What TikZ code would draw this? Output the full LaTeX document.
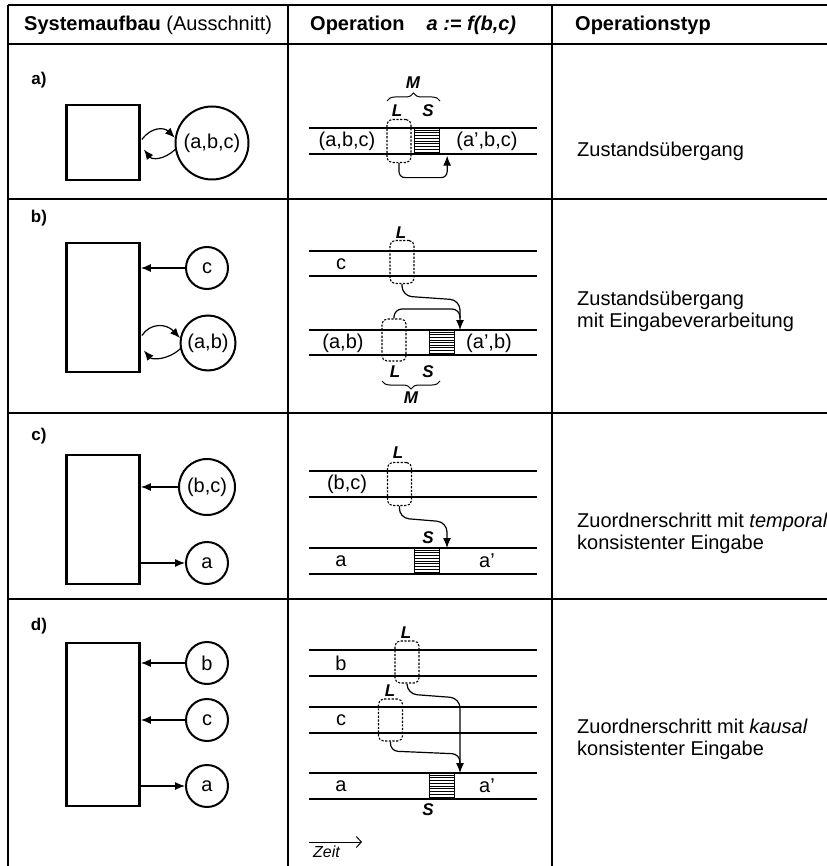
\documentclass[tikz,border=0pt]{standalone}
\usepackage{fontspec}
\setmainfont{Liberation Sans}
\usetikzlibrary{arrows.meta,decorations.pathreplacing,calc}
\begin{document}
\begin{tikzpicture}[x=1pt,y=-1pt,
  tbl/.style={line width=1.4pt},
  sysbox/.style={draw,line width=2.8pt,inner sep=0pt,minimum width=73pt},
  state/.style={draw,circle,line width=2pt,inner sep=0pt,font=\fontsize{20}{24}\selectfont},
  tl/.style={line width=1.6pt},
  lbox/.style={draw,dash pattern=on 2.2pt off 1.5pt,rounded corners=5pt,line width=1.1pt,inner sep=0pt,minimum width=24pt},
  sbox/.style={draw,line width=1.3pt,inner sep=0pt,minimum width=25pt,minimum height=26pt},
  lab/.style={font=\fontsize{17}{20}\selectfont\bfseries\itshape,inner sep=0pt},
  txt/.style={font=\fontsize{20}{24}\selectfont,inner sep=0pt},
  rtxt/.style={font=\fontsize{20}{22}\selectfont,inner sep=0pt,anchor=west,align=left},
  rowlab/.style={font=\fontsize{17}{20}\selectfont\bfseries,inner sep=0pt},
  arr/.style={-{Latex[length=10pt,width=8pt]},line width=1.2pt},
  conn/.style={line width=1.2pt},
  hatch/.style={line width=0.7pt},
]
\fill[white] (0,0) rectangle (826,866);
\useasboundingbox (0,0) rectangle (826,866);

% ---------- table ----------
\foreach \yy in {5,44,199,413,599} \draw[tbl] (8,\yy) -- (830,\yy);
\foreach \xx in {8,288,552} \draw[tbl] (\xx,5) -- (\xx,870);

\node[txt,anchor=west] (h1) at (24,25) {\textbf{Systemaufbau} (Ausschnitt)};
\node[txt,anchor=west] (h2) at (310,25) {\textbf{Operation}\hspace{22pt}\textbf{\textit{a := f(b,c)}}};
\node[txt,anchor=west] (h3) at (575,25) {\textbf{Operationstyp}};

% ---------- row a ----------
\node[rowlab] (ra) at (39,80) {a)};
\node[sysbox,minimum height=75pt] (boxA) at (103,142.5) {};
\node[state,minimum size=73pt] (cA) at (212,143) {(a,b,c)};
\draw[arr] ($(boxA.east)+(1,-3)$) .. controls (151,127) and (164,127) .. (cA.172);
\draw[arr] (cA.190) .. controls (164,160) and (152,160) .. ($(boxA.east)+(3,7)$);

\draw[tl] (309,128) -- (537,128);
\draw[tl] (309,154) -- (537,154);
\node[txt] (tA1) at (347,141) {(a,b,c)};
\node[txt] (tA2) at (487,141) {(a',b,c)};
\node[lbox,minimum height=43pt] (LA) at (399,141) {};
\node[sbox] (SA) at (427,141) {};
\foreach \k in {1,...,9} \draw[hatch] ($(SA.north west)!\k/10!(SA.south west)$) -- ($(SA.north east)!\k/10!(SA.south east)$);
\node[lab] (lLA) at (397,111) {L};
\node[lab] (lSA) at (428,111) {S};
\draw[line width=1pt,decorate,decoration={brace,amplitude=8pt}] (387,101) -- (440,101);
\node[lab] (lMA) at (413,83) {M};
\draw[arr,rounded corners=6pt] (LA.south) |- ($(SA.south east)+(7,23)$) -- ($(SA.south east)+(7,1)$);
\node[rtxt] (oA) at (577,151) {Zustandsübergang};

% ---------- row b ----------
\node[rowlab] (rb) at (39,218) {b)};
\node[sysbox,minimum height=129pt] (boxB) at (103,307.5) {};
\node[state,minimum size=42pt] (cB) at (207,268) {c};
\node[state,minimum size=55pt] (abB) at (208,343) {(a,b)};
\draw[arr] (cB.west) -- (cB.west -| boxB.east);
\draw[arr] ($(boxB.east)+(1,28)$) .. controls (150,323) and (166,323) .. (abB.170);
\draw[arr] (abB.192) .. controls (168,360) and (152,360) .. ($(boxB.east)+(3,43)$);

\draw[tl] (309,251) -- (537,251);
\draw[tl] (309,276) -- (537,276);
\node[txt] (tB1) at (341,264) {c};
\node[lbox,minimum height=43pt] (LB1) at (402,262) {};
\node[lab] (lLB1) at (401,233) {L};
\draw[tl] (309,330) -- (537,330);
\draw[tl] (309,355) -- (537,355);
\node[txt] (tB2) at (343,343) {(a,b)};
\node[txt] (tB3) at (489,343) {(a',b)};
\node[lbox,minimum height=42pt] (LB2) at (394,340) {};
\node[sbox,minimum height=25pt] (SB) at (442,342.5) {};
\foreach \k in {1,...,9} \draw[hatch] ($(SB.north west)!\k/10!(SB.south west)$) -- ($(SB.north east)!\k/10!(SB.south east)$);
\node[lab] (lLB2) at (395,372) {L};
\node[lab] (lSB) at (428,372) {S};
\draw[line width=1pt,decorate,decoration={brace,amplitude=8pt,mirror}] (382,381) -- (440,381);
\node[lab] (lMB) at (411,398) {M};
\coordinate (jB) at (460,330);
\draw[arr,rounded corners=10pt] (LB1.south) -- (402,296) -- (460,300) -- (jB);
\draw[conn,rounded corners=8pt] (LB2.north) -- (394,309) -- (460,309) -- (460,318);
\node[rtxt] (oB) at (577,311) {Zustandsübergang\\mit Eingabeverarbeitung};

% ---------- row c ----------
\node[rowlab] (rc) at (39,436) {c)};
\node[sysbox,minimum height=129pt] (boxC) at (103,519.5) {};
\node[state,minimum size=56pt] (bcC) at (207,487) {(b,c)};
\node[state,minimum size=42pt] (aC) at (207,563) {a};
\draw[arr] (bcC.west) -- (bcC.west -| boxC.east);
\draw[arr] (aC.west -| boxC.east) -- (aC.west);

\draw[tl] (309,471) -- (537,471);
\draw[tl] (309,497) -- (537,497);
\node[txt] (tC1) at (347,484) {(b,c)};
\node[lbox,minimum height=43pt] (LC) at (399.5,484) {};
\node[lab] (lLC) at (398,453) {L};
\draw[tl] (309,548) -- (537,548);
\draw[tl] (309,574) -- (537,574);
\node[txt] (tC2) at (341,561) {a};
\node[txt] (tC3) at (487,561) {a'};
\node[sbox] (SC) at (427,561) {};
\foreach \k in {1,...,9} \draw[hatch] ($(SC.north west)!\k/10!(SC.south west)$) -- ($(SC.north east)!\k/10!(SC.south east)$);
\node[lab] (lSC) at (428,538) {S};
\coordinate (jC) at (447,548);
\draw[arr,rounded corners=10pt] (LC.south) -- (399,518) -- (447,522) -- (jC);
\node[rtxt] (oC) at (577,533) {Zuordnerschritt mit \textit{temporal}\\konsistenter Eingabe};

% ---------- row d ----------
\node[rowlab] (rd) at (39,626) {d)};
\node[sysbox,minimum height=163pt] (boxD) at (103,724.5) {};
\node[state,minimum size=42pt] (bD) at (207,663) {b};
\node[state,minimum size=42pt] (cD) at (207,720) {c};
\node[state,minimum size=42pt] (aD) at (207,786) {a};
\draw[arr] (bD.west) -- (bD.west -| boxD.east);
\draw[arr] (cD.west) -- (cD.west -| boxD.east);
\draw[arr] (aD.west -| boxD.east) -- (aD.west);

\draw[tl] (309,650) -- (537,650);
\draw[tl] (309,676) -- (537,676);
\node[txt] (tD1) at (341,663) {b};
\node[lbox,minimum height=42pt] (LD1) at (407,662) {};
\node[lab] (lLD1) at (406,633) {L};
\draw[tl] (309,707) -- (537,707);
\draw[tl] (309,733) -- (537,733);
\node[txt] (tD2) at (341,720) {c};
\node[lbox,minimum height=42pt] (LD2) at (390.5,720) {};
\node[lab] (lLD2) at (390,691) {L};
\draw[tl] (309,773) -- (537,773);
\draw[tl] (309,799) -- (537,799);
\node[txt] (tD3) at (341,786) {a};
\node[txt] (tD4) at (487,786) {a'};
\node[sbox] (SD) at (442,786) {};
\foreach \k in {1,...,9} \draw[hatch] ($(SD.north west)!\k/10!(SD.south west)$) -- ($(SD.north east)!\k/10!(SD.south east)$);
\node[lab] (lSD) at (428,810) {S};
\coordinate (jD) at (460,773);
\draw[arr,rounded corners=10pt] (LD1.south) -- (407,694) -- (460,698) -- (jD);
\draw[conn,rounded corners=8pt] (LD2.south) -- (390,751) -- (460,754) -- (460,764);
\coordinate (z0) at (309,842);
\coordinate (z1) at (362,842);
\draw[-{Straight Barb[length=5pt,width=11pt]},line width=1pt] (z0) -- (z1);
\node[font=\fontsize{16}{18}\selectfont\itshape,inner sep=0pt,anchor=north west] (zeit) at (313,846) {Zeit};
\node[rtxt] (oD) at (577,739) {Zuordnerschritt mit \textit{kausal}\\konsistenter Eingabe};
\end{tikzpicture}
\end{document}
